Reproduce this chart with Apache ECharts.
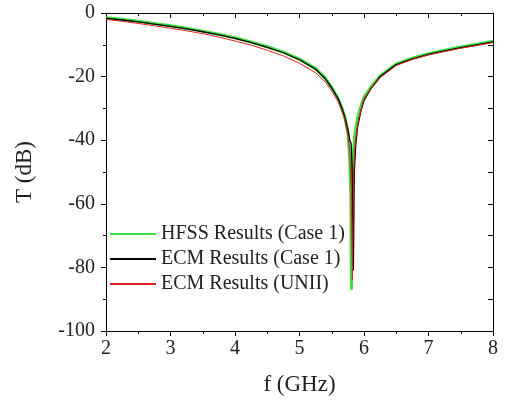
<!DOCTYPE html>
<html><head><meta charset="utf-8">
<script src="https://cdn.jsdelivr.net/npm/echarts@6/dist/echarts.min.js"></script>
<style>html,body{margin:0;padding:0;background:#fff}#c{width:505px;height:401px}</style>
</head><body><div id="c"></div>
<script>
var xTicks = [2, 3, 4, 5, 6, 7, 8];
var yTicks = [0, -20, -40, -60, -80, -100];
var seriesNames = ['HFSS Results (Case 1)', 'ECM Results (Case 1)', 'ECM Results (UNII)'];

var hfssF = [2.0,2.25,2.5,2.75,3.0,3.25,3.5,3.75,4.0,4.25,4.5,4.75,5.0,5.25,5.4,5.5,5.6,5.65,5.7,5.75,5.78,5.795,5.805,5.815,5.83,5.86,5.9,5.95,6.0,6.1,6.25,6.5,6.75,7.0,7.25,7.5,7.75,8.0];
var hfssT = [-1.5,-2.0,-2.6,-3.3,-4.0,-4.8,-5.7,-6.7,-7.8,-9.1,-10.6,-12.3,-14.5,-17.5,-20.5,-23.5,-27,-29.5,-32.5,-37.5,-46,-57,-87,-60,-45,-38,-33,-29.5,-26.5,-23.5,-19.8,-16,-14.2,-12.8,-11.7,-10.7,-9.8,-8.9];

var ecmF = [2.0,2.25,2.5,2.75,3.0,3.25,3.5,3.75,4.0,4.25,4.5,4.75,5.0,5.25,5.4,5.5,5.6,5.65,5.7,5.75,5.78,5.8,5.815,5.835,5.85,5.87,5.9,5.95,6.0,6.1,6.25,6.5,6.75,7.0,7.25,7.5,7.75,8.0];
var ecmT = [-1.7,-2.2,-2.8,-3.5,-4.2,-5.0,-5.9,-6.9,-8.0,-9.3,-10.8,-12.5,-14.7,-17.7,-20.7,-23.5,-27,-29.5,-32.5,-36.5,-40,-41,-48,-81,-50,-42,-36,-31,-27.5,-24,-20,-16.2,-14.4,-13.0,-11.9,-10.9,-10.0,-9.1];

var uniiF = [2.0,2.25,2.5,2.75,3.0,3.25,3.5,3.75,4.0,4.25,4.5,4.75,5.0,5.25,5.4,5.5,5.6,5.65,5.7,5.75,5.78,5.8,5.82,5.835,5.85,5.88,5.92,5.96,6.0,6.1,6.25,6.5,6.75,7.0,7.25,7.5,7.75,8.0];
var uniiT = [-2.0,-2.6,-3.3,-4.0,-4.8,-5.6,-6.5,-7.6,-8.8,-10.1,-11.7,-13.5,-15.8,-18.8,-21.7,-24.5,-28,-30.5,-33.5,-38.5,-44,-55,-84,-55,-44,-38,-33,-30,-27,-24,-20.3,-16.5,-14.6,-13.2,-12.1,-11.1,-10.2,-9.3];

function pairs(f, t) { return f.map(function (v, i) { return [v, t[i]]; }); }

var FONT = 'Liberation Serif';
var chart = echarts.init(document.getElementById('c'), null, {renderer: 'canvas'});
var axisBase = {
  axisLine: {show: true, onZero: false, lineStyle: {color: '#000', width: 1}},
  splitLine: {show: false},
  minorSplitLine: {show: false}
};
chart.setOption({
  animation: false,
  backgroundColor: '#fff',
  grid: {left: 106, right: 12, top: 13, bottom: 70},
  legend: {
    orient: 'vertical', left: 104, top: 219, itemWidth: 46, itemHeight: 14, itemGap: 5,
    itemStyle: {opacity: 0},
    textStyle: {fontFamily: FONT, fontSize: 20, color: '#222', lineHeight: 20},
    data: seriesNames
  },
  xAxis: [
    Object.assign({}, axisBase, {
      type: 'value', min: 2, max: 8, interval: 1, position: 'bottom',
      name: 'f (GHz)', nameLocation: 'middle', nameGap: 42,
      nameTextStyle: {fontFamily: FONT, fontSize: 23, color: '#222'},
      axisTick: {show: true, inside: false, length: 5, lineStyle: {color: '#000'}},
      minorTick: {show: true, splitNumber: 2, length: 3, lineStyle: {color: '#000'}},
      axisLabel: {fontFamily: FONT, fontSize: 20, color: '#222', margin: 8,
        formatter: function (v) { return xTicks.indexOf(v) >= 0 ? String(v) : ''; }}
    }),
    Object.assign({}, axisBase, {
      type: 'value', min: 2, max: 8, interval: 1, position: 'top',
      axisTick: {show: true, inside: true, length: 5, lineStyle: {color: '#000'}},
      minorTick: {show: true, splitNumber: 2, length: 3, lineStyle: {color: '#000'}},
      axisLabel: {show: false}
    })
  ],
  yAxis: [
    Object.assign({}, axisBase, {
      type: 'value', min: -100, max: 0, interval: 20, position: 'left',
      name: 'T (dB)', nameLocation: 'middle', nameGap: 70, nameRotate: 90,
      nameTextStyle: {fontFamily: FONT, fontSize: 23, color: '#222'},
      axisTick: {show: true, inside: false, length: 5, lineStyle: {color: '#000'}},
      minorTick: {show: true, splitNumber: 2, length: 3, lineStyle: {color: '#000'}},
      axisLabel: {fontFamily: FONT, fontSize: 20, color: '#222', margin: 11,
        formatter: function (v) { return yTicks.indexOf(v) >= 0 ? String(v) : ''; }}
    }),
    Object.assign({}, axisBase, {
      type: 'value', min: -100, max: 0, interval: 20, position: 'right',
      axisTick: {show: true, inside: true, length: 5, lineStyle: {color: '#000'}},
      minorTick: {show: true, splitNumber: 2, length: 5, lineStyle: {color: '#000'}},
      axisLabel: {show: false}
    })
  ],
  series: [
    {name: seriesNames[0], type: 'line', showSymbol: false, symbol: 'none', xAxisIndex: 0, yAxisIndex: 0,
     data: pairs(hfssF, hfssT), lineStyle: {color: '#3ee03e', width: 3}, itemStyle: {color: '#3ee03e'}, z: 2},
    {name: seriesNames[1], type: 'line', showSymbol: false, symbol: 'none', xAxisIndex: 0, yAxisIndex: 0,
     data: pairs(ecmF, ecmT), lineStyle: {color: '#000', width: 1.3}, itemStyle: {color: '#000'}, z: 3},
    {name: seriesNames[2], type: 'line', showSymbol: false, symbol: 'none', xAxisIndex: 0, yAxisIndex: 0,
     data: pairs(uniiF, uniiT), lineStyle: {color: '#e02020', width: 1}, itemStyle: {color: '#e02020'}, z: 4}
  ]
});
</script></body></html>
